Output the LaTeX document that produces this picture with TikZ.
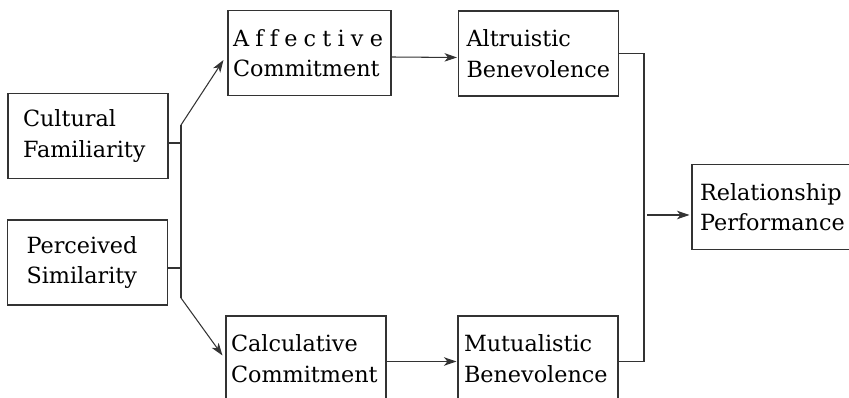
\documentclass[tikz,border=0pt]{standalone}
\usepackage{fontspec}
\setmainfont{DejaVu Serif}
\usepackage{tikz}
\usetikzlibrary{arrows.meta}

\begin{document}
\begin{tikzpicture}[x=0.02cm, y=-0.02cm, font=\fontsize{12.7}{17.4}\selectfont]
        \tikzstyle{box} = [rectangle, draw=black!80, line width=0.6pt, minimum height=1.7cm, inner xsep=0.1cm, inner ysep=0pt, text width=3.0cm, align=left]
        \tikzstyle{line} = [draw=black!80, line width=0.6pt]
        \tikzstyle{arrow} = [line, ->, >={Stealth[length=0.25cm, width=0.17cm, inset=0.07cm]}]
        \useasboundingbox (0, 0) rectangle (849, 398);
		\node [box, inner xsep=0.3cm, text width=2.6cm] (cult) at (88, 136) {Cultural \\ Familiarity};
		\node [box, inner xsep=0.38cm, text width=2.44cm] (perc) at (87.5, 262.5) {Perceived \\ Similarity};
		\node [box, text width=3.06cm] (affect) at (309.5, 53) {\makebox[3.0cm][l]{A\hfill f\hfill f\hfill e\hfill c\hfill t\hfill i\hfill v\hfill e} \\ Commitment};
		\node [box] (calc) at (306, 358.5) {Calculative \\ Commitment};
		\node [box, inner xsep=0.16cm, text width=2.88cm] (altru) at (538.5, 53.5) {Altruistic \\ Benevolence};
		\node [box, inner xsep=0.12cm, text width=2.96cm] (mutu) at (538, 358.5) {Mutualistic \\ Benevolence};
		\node [box, inner xsep=0.16cm, text width=2.88cm] (relat) at (772, 207) {Relationship \\ Performance};
		\coordinate (jtop) at (181, 125);
		\coordinate (jbot) at (181, 298);
		\coordinate (jcult) at (181, 143);
		\coordinate (jperc) at (181, 268);
		\coordinate (jright) at (644, 207);
		\coordinate (jmid) at (647, 215);
		\draw[line] (jcult -| cult.east) to (jcult);
		\draw[line] (jperc -| perc.east) to (jperc);
		\draw[line] (jtop) to (jbot);
		\draw[arrow] (jtop) to ([xshift=-0.08cm, yshift=-0.14cm]affect.west);
		\draw[arrow] (jbot) to ([xshift=-0.06cm, yshift=0.06cm]calc.west);
		\draw[arrow] ([yshift=-0.08cm]affect.east) to ([xshift=-0.02cm, yshift=-0.08cm]altru.west);
		\draw[arrow] ([yshift=-0.06cm]calc.east) to ([xshift=-0.02cm, yshift=-0.06cm]mutu.west);
		\draw[line] (altru.east) -| (jright);
		\draw[line] ([yshift=-0.06cm]mutu.east) -| (jright);
		\draw[arrow] (jmid) to ([xshift=-0.04cm]jmid -| relat.west);
    \end{tikzpicture}
\end{document}
